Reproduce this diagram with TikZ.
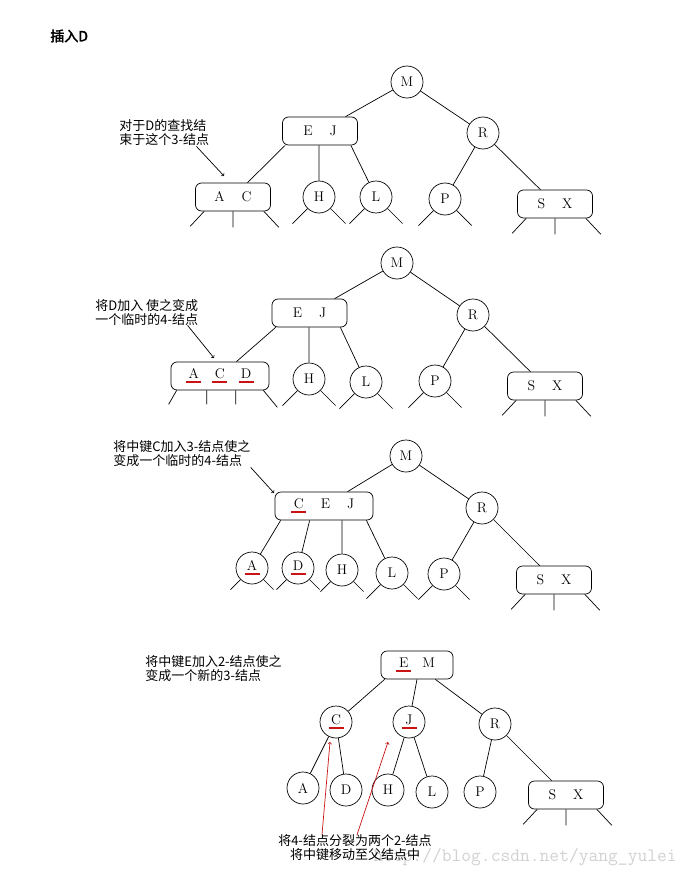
\documentclass[tikz,border=0pt]{standalone}
\usepackage{fontspec}
\newfontfamily\cjk[AutoFakeBold=2.5]{Noto Sans CJK SC}
\usetikzlibrary{positioning,calc}
\definecolor{keyred}{RGB}{200,20,20}
\newcommand\redkey[1]{\setbox0=\hbox{#1}\rlap{\hbox to \wd0{\hss\color{keyred}\rule[-4.5pt]{15pt}{2pt}\hss}}\box0}
\newcommand\stubs[2][15]{\draw (#2.-135) -- ++(-#1,#1) (#2.-45) -- ++(#1,#1);}
\newcommand\bstubs[1]{\draw ([xshift=9pt]#1.south west) -- ++(-14,15) (#1.south) -- ++(0,16) ([xshift=-7pt]#1.south east) -- ++(15,16);}

\begin{document}
\begin{tikzpicture}[x=1pt,y=-1pt,line width=0.7pt,
  kn/.style={circle,draw,minimum size=32pt,inner sep=0pt,font=\fontsize{14}{16}\selectfont},
  kb/.style={draw,rounded corners=6pt,minimum width=75pt,minimum height=28pt,inner sep=0pt,font=\fontsize{14}{16}\selectfont},
  note/.style={font=\cjk\fontsize{13}{14}\selectfont,align=left,inner sep=0pt,anchor=west}]
\useasboundingbox (0,0) rectangle (693,880);
\node[note,font=\cjk\bfseries\fontsize{14}{16}\selectfont] (t0) at (50,36) {插入D};

\node[kn] (m1) at (407,82) {M};
\node[kb] (ej1) at (320,131) {E\hspace{17pt}J};
\node[kn] (r1) at (483,133) {R};
\node[kb] (ac1) at (233,197) {A\hspace{17pt}C};
\node[kn] (h1) at (319,197) {H};
\node[kn] (l1) at (376,197) {L};
\node[kn] (p1) at (445,199) {P};
\node[kb] (sx1) at (555,204) {S\hspace{17pt}X};
\node[note] (n1) at (119,133) {对于D的查找结\\束于这个3-结点};
\coordinate (a1) at (224,176);
\draw (m1) -- (ej1) (m1) -- (r1) ([xshift=3pt]ej1.south west) -- (ac1) (ej1.south -| h1) -- (h1)
  ([xshift=-7pt]ej1.south east) -- (l1) (r1) -- (p1) (r1) -- (sx1);
\draw[->] ([xshift=-13pt]n1.south east) -- (a1);
\bstubs{ac1} \bstubs{sx1} \stubs{h1} \stubs{l1} \stubs{p1}

\node[kn] (m2) at (397,263) {M};
\node[kb] (ej2) at (309.5,313) {E\hspace{17pt}J};
\node[kn] (r2) at (473,315) {R};
\node[kb,minimum width=98pt] (acd2) at (220,376) {\redkey{A}\hspace{16pt}\redkey{C}\hspace{16pt}\redkey{D}};
\node[kn] (h2) at (309,379) {H};
\node[kn] (l2) at (366,382) {L};
\node[kn] (p2) at (435,381) {P};
\node[kb] (sx2) at (545,386) {S\hspace{17pt}X};
\node[note] (n2) at (95,312) {将D加入 使之变成\\一个临时的4-结点};
\coordinate (a2) at (214,358);
\draw (m2) -- (ej2) (m2) -- (r2) ([xshift=4pt]ej2.south west) -- (acd2) (ej2.south -| h2) -- (h2)
  ([xshift=-7pt]ej2.south east) -- (l2) (r2) -- (p2) (r2) -- (sx2);
\draw[->] ([xshift=-11pt]n2.south east) -- (a2);
\draw ([xshift=6pt]acd2.south west) -- ++(-8,14) ([xshift=36pt]acd2.south west) -- ++(0,14)
  ([xshift=65pt]acd2.south west) -- ++(0,14) ([xshift=-6pt]acd2.south east) -- ++(14,17);
\bstubs{sx2} \stubs{h2} \stubs{l2} \stubs{p2}

\node[kn] (m3) at (406,456) {M};
\node[kb,minimum width=98pt] (cej3) at (324,506) {\redkey{C}\hspace{17pt}E\hspace{17pt}J};
\node[kn] (r3) at (482,508) {R};
\node[kn] (a3) at (252,568) {\redkey{A}};
\node[kn] (d3) at (298,568) {\redkey{D}};
\node[kn] (h3) at (342,570) {H};
\node[kn] (l3) at (392,573) {L};
\node[kn] (p3) at (444,574) {P};
\node[kb] (sx3) at (554,580) {S\hspace{17pt}X};
\node[note] (n3) at (113,454) {将中键C加入3-结点使之\\变成一个临时的4-结点};
\coordinate (a4) at (274,493);
\draw (m3) -- (cej3) (m3) -- (r3) ([xshift=6pt]cej3.south west) -- (a3) ([xshift=35pt]cej3.south west) -- (d3)
  (cej3.south -| h3) -- (h3) ([xshift=-7pt]cej3.south east) -- (l3) (r3) -- (p3) (r3) -- (sx3);
\draw[->] (n3.south east) -- (a4);
\stubs[10]{a3} \stubs[10]{d3} \stubs[10]{h3} \stubs[14]{l3} \stubs[14]{p3} \bstubs{sx3}

\node[font=\ttfamily\fontsize{19}{20}\selectfont,text=black!18,anchor=west,inner sep=0pt] (wm) at (373,857) {http://blog.csdn.net/yang\_yulei};
\node[kb,minimum width=72pt] (em4) at (417,665) {\redkey{E}\hspace{14pt}M};
\node[kn] (c4) at (336,722) {\redkey{C}};
\node[kn] (j4) at (409,722) {\redkey{J}};
\node[kn] (r4) at (495,724) {R};
\node[kn] (a5) at (303,788) {A};
\node[kn] (d4) at (346,790) {D};
\node[kn] (h4) at (388,790) {H};
\node[kn] (l4) at (432,792) {L};
\node[kn] (p4) at (480,792) {P};
\node[kb] (sx4) at (566,795) {S\hspace{17pt}X};
\node[note] (n4) at (145,669) {将中键E加入2-结点使之\\变成一个新的3-结点};
\node[note,anchor=center,align=center] (n5) at (355,848) {将4-结点分裂为两个2-结点\\将中键移动至父结点中};
\coordinate (a6) at (330,742);
\coordinate (a7) at (388,742);
\draw ([xshift=4pt]em4.south west) -- (c4) (em4.south) -- (j4) ([xshift=-18pt]em4.south east) -- (r4)
  (c4) -- (a5) (c4) -- (d4) (j4) -- (h4) (j4) -- (l4) (r4) -- (p4) (r4) -- (sx4);
\draw[->,keyred] ([xshift=-33pt]n5.north) -- (a6);
\draw[->,keyred] ([xshift=2pt]n5.north) -- (a7);
\bstubs{sx4}
\end{tikzpicture}
\end{document}
